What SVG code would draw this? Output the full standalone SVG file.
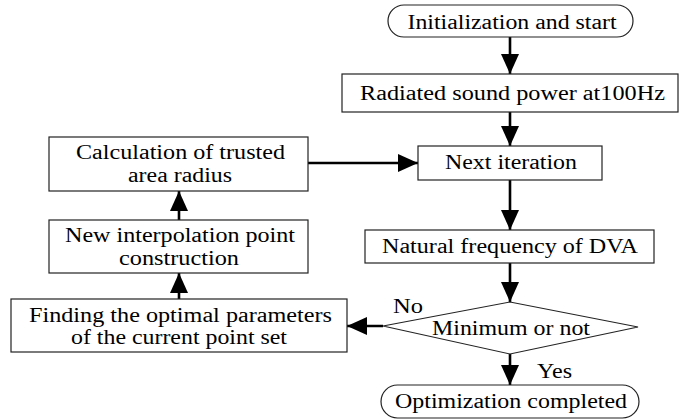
<svg xmlns="http://www.w3.org/2000/svg" width="680" height="419" viewBox="0 0 680 419">
<style>
  .box { fill: #ffffff; stroke: #222222; stroke-width: 1.2; }
  .t { font-family: "Liberation Serif", "Times New Roman", serif; font-size: 20px; fill: #000000; }
  .c { text-anchor: middle; }
  .conn { stroke: #000000; stroke-width: 2.6; fill: none; marker-end: url(#ah); }
</style>
<defs>
  <marker id="ah" markerUnits="userSpaceOnUse" markerWidth="20" markerHeight="18" refX="20" refY="9" orient="auto" viewBox="0 0 20 18">
    <path d="M0,0 L20,9 L0,18 z" fill="#000000"/>
  </marker>
</defs>
<rect width="680" height="419" fill="#ffffff"/>

<g id="connectors">
  <line class="conn" x1="510" y1="37" x2="510" y2="74"/>
  <line class="conn" x1="510" y1="112" x2="510" y2="146"/>
  <line class="conn" x1="510" y1="180" x2="510" y2="230"/>
  <line class="conn" x1="510" y1="263" x2="510" y2="302"/>
  <line class="conn" x1="510" y1="354" x2="510" y2="385"/>
  <line class="conn" x1="383" y1="326" x2="347" y2="326"/>
  <line class="conn" x1="179" y1="299" x2="179" y2="273"/>
  <line class="conn" x1="179" y1="220" x2="179" y2="191"/>
  <line class="conn" x1="308" y1="163" x2="418" y2="163"/>
</g>

<g id="start">
  <rect class="box" x="388" y="5" width="245" height="32" rx="16" ry="16"/>
  <text class="t c" x="512" y="29" textLength="209" lengthAdjust="spacingAndGlyphs">Initialization and start</text>
</g>

<g id="radiated">
  <rect class="box" x="342" y="74" width="336" height="38"/>
  <text class="t" x="360" y="100" textLength="305" lengthAdjust="spacingAndGlyphs">Radiated sound power at100Hz</text>
</g>

<g id="next">
  <rect class="box" x="418" y="146" width="184" height="34"/>
  <text class="t" x="445" y="169" textLength="132" lengthAdjust="spacingAndGlyphs">Next iteration</text>
</g>

<g id="calc">
  <rect class="box" x="49" y="137" width="259" height="54"/>
  <text class="t" x="76" y="159" textLength="209" lengthAdjust="spacingAndGlyphs">Calculation of trusted</text>
  <text class="t" x="128" y="182" textLength="104" lengthAdjust="spacingAndGlyphs">area radius</text>
</g>

<g id="newinterp">
  <rect class="box" x="49" y="220" width="259" height="53"/>
  <text class="t" x="65" y="242" textLength="230" lengthAdjust="spacingAndGlyphs">New interpolation point</text>
  <text class="t" x="119" y="265" textLength="120" lengthAdjust="spacingAndGlyphs">construction</text>
</g>

<g id="finding">
  <rect class="box" x="11" y="299" width="336" height="53"/>
  <text class="t" x="29" y="322" textLength="303" lengthAdjust="spacingAndGlyphs">Finding the optimal parameters</text>
  <text class="t" x="71" y="344" textLength="216" lengthAdjust="spacingAndGlyphs">of the current point set</text>
</g>

<g id="natural">
  <rect class="box" x="365" y="230" width="289" height="33"/>
  <text class="t" x="382" y="253" textLength="256" lengthAdjust="spacingAndGlyphs">Natural frequency of DVA</text>
</g>

<g id="decision">
  <polygon class="box" points="383,326 510,302 638,327 510,354"/>
  <text class="t" x="432" y="335" textLength="158" lengthAdjust="spacingAndGlyphs">Minimum or not</text>
  <text class="t" x="393" y="313" textLength="30" lengthAdjust="spacingAndGlyphs">No</text>
  <text class="t" x="537" y="378" textLength="35" lengthAdjust="spacingAndGlyphs">Yes</text>
</g>

<g id="end">
  <rect class="box" x="381" y="385" width="258" height="33" rx="16.5" ry="16.5"/>
  <text class="t" x="395" y="408" textLength="232" lengthAdjust="spacingAndGlyphs">Optimization completed</text>
</g>
</svg>
